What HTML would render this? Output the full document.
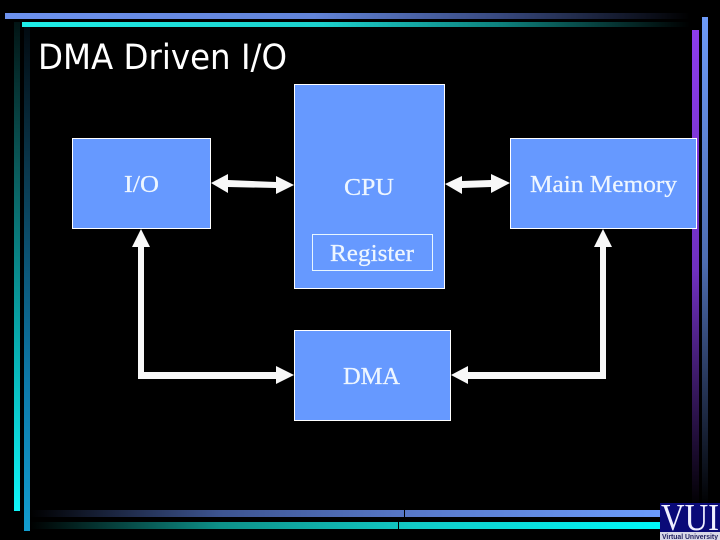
<!DOCTYPE html>
<html>
<head>
<meta charset="utf-8">
<style>
html,body{margin:0;padding:0;background:#000;width:720px;height:540px;overflow:hidden}
svg{display:block}
.l{font-family:"Liberation Serif",serif;font-size:24.5px;fill:#eef6ff;stroke:#eef6ff;stroke-width:.25}
</style>
</head>
<body>
<svg width="720" height="540" viewBox="0 0 720 540" xmlns="http://www.w3.org/2000/svg">
<defs>
<linearGradient id="t1" x1="0" x2="1" y1="0" y2="0"><stop offset="0" stop-color="#6d92ee"/><stop offset=".45" stop-color="#6284d8"/><stop offset=".72" stop-color="#38497f"/><stop offset="1" stop-color="#000"/></linearGradient>
<linearGradient id="t2" x1="0" x2="1" y1="0" y2="0"><stop offset="0" stop-color="#1eeee8"/><stop offset=".45" stop-color="#1cd0cc"/><stop offset=".72" stop-color="#0d7f7b"/><stop offset="1" stop-color="#000"/></linearGradient>
<linearGradient id="l1" x1="0" x2="0" y1="0" y2="1"><stop offset="0" stop-color="#021414"/><stop offset=".3" stop-color="#0a5a5a"/><stop offset=".7" stop-color="#08b5b8"/><stop offset="1" stop-color="#10f5f8"/></linearGradient>
<linearGradient id="l2" x1="0" x2="0" y1="0" y2="1"><stop offset="0" stop-color="#020a10"/><stop offset=".3" stop-color="#0a3a50"/><stop offset=".7" stop-color="#0d78a8"/><stop offset="1" stop-color="#129dd0"/></linearGradient>
<linearGradient id="r1" x1="0" x2="0" y1="0" y2="1"><stop offset="0" stop-color="#8c3cec"/><stop offset=".5" stop-color="#7030c0"/><stop offset="1" stop-color="#000"/></linearGradient>
<linearGradient id="r2" x1="0" x2="0" y1="0" y2="1"><stop offset="0" stop-color="#6d9af8"/><stop offset=".5" stop-color="#4d6cb0"/><stop offset="1" stop-color="#000"/></linearGradient>
<linearGradient id="b1" x1="0" x2="1" y1="0" y2="0"><stop offset="0" stop-color="#000"/><stop offset=".3" stop-color="#3d5490"/><stop offset=".6" stop-color="#5878c8"/><stop offset="1" stop-color="#6c9cfc"/></linearGradient>
<linearGradient id="b2" x1="0" x2="1" y1="0" y2="0"><stop offset="0" stop-color="#000"/><stop offset=".3" stop-color="#0d9088"/><stop offset=".6" stop-color="#12c8c4"/><stop offset="1" stop-color="#00f8f8"/></linearGradient>
</defs>
<rect width="720" height="540" fill="#000"/>

<rect x="5" y="13" width="685" height="6" fill="url(#t1)"/>
<rect x="22" y="22" width="668" height="5" fill="url(#t2)"/>
<rect x="14" y="22" width="6" height="489" fill="url(#l1)"/>
<rect x="24" y="27" width="6" height="504" fill="url(#l2)"/>
<rect x="692" y="30" width="7" height="478" fill="url(#r1)"/>
<rect x="702" y="17" width="6" height="490" fill="url(#r2)"/>
<rect x="30" y="510" width="632" height="7" fill="url(#b1)"/>
<rect x="30" y="522" width="632" height="7" fill="url(#b2)"/>
<rect x="404" y="510" width="1" height="7" fill="#000"/>
<rect x="398" y="522" width="1" height="7" fill="#000"/>

<text x="38" y="69" font-family="'DejaVu Sans',sans-serif" font-size="35" fill="#fff" textLength="249" lengthAdjust="spacingAndGlyphs">DMA Driven I/O</text>

<g fill="#6699ff" stroke="#fff" stroke-width="1">
<rect x="72.5" y="138.5" width="138" height="90"/>
<rect x="294.5" y="84.5" width="150" height="204"/>
<rect x="510.5" y="138.5" width="186" height="90"/>
<rect x="294.5" y="330.5" width="156" height="90"/>
<rect x="312.5" y="234.5" width="120" height="36" fill="#6699ff" stroke="#e8f6ff"/>
</g>

<g fill="#f8f8f8">
<polygon points="211,183 228,174 228,180 276,182 276,176 294,185 276,194 276,188 228,187 228,193"/>
<polygon points="445,184 462,176 462,181 491,180 491,174 510,183 491,193 491,187 462,188 462,194"/>
<polygon points="141,229 150,247 144,247 144,372 276,372 276,366 294,375 276,384 276,379 138,379 138,247 132,247"/>
<polygon points="603,229 612,247 606,247 606,379 468,379 468,384 451,375 468,366 468,372 600,372 600,247 594,247"/>
</g>

<text class="l" x="124" y="192" textLength="35" lengthAdjust="spacingAndGlyphs">I/O</text>
<text class="l" x="344" y="195" textLength="50" lengthAdjust="spacingAndGlyphs">CPU</text>
<text class="l" x="330" y="261" textLength="84" lengthAdjust="spacingAndGlyphs">Register</text>
<text class="l" x="530" y="192" textLength="147" lengthAdjust="spacingAndGlyphs">Main Memory</text>
<text class="l" x="343" y="384" textLength="57" lengthAdjust="spacingAndGlyphs">DMA</text>

<rect x="660" y="503" width="60" height="30" fill="#0a0a78"/>
<text x="661" y="530" font-family="'Liberation Serif',serif" font-size="38" fill="#f0f0ff" textLength="58" lengthAdjust="spacingAndGlyphs">VUI</text>
<rect x="660" y="532" width="60" height="8" fill="#d8d8e8"/>
<text x="662" y="539" font-family="'Liberation Sans',sans-serif" font-size="7" font-weight="bold" fill="#202060" textLength="56" lengthAdjust="spacingAndGlyphs">Virtual University</text>
</svg>
</body>
</html>
